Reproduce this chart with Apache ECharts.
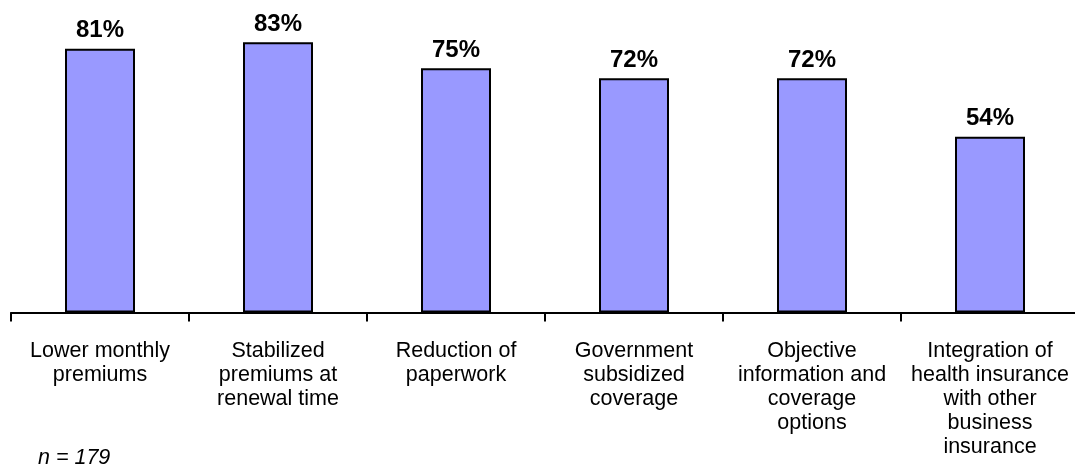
<!DOCTYPE html>
<html>
<head>
<meta charset="utf-8">
<script src="https://cdn.jsdelivr.net/npm/echarts@6/dist/echarts.min.js"></script>
<style>
html,body{margin:0;padding:0;background:#fff;}
#chart{width:1075px;height:466px;}
</style>
</head>
<body>
<div id="chart"></div>
<script>
const categories = [
  "Lower monthly\npremiums",
  "Stabilized\npremiums at\nrenewal time",
  "Reduction of\npaperwork",
  "Government\nsubsidized\ncoverage",
  "Objective\ninformation and\ncoverage\noptions",
  "Integration of\nhealth insurance\nwith other\nbusiness\ninsurance"
];
const values = [81, 83, 75, 72, 72, 54];
const sampleNote = "n = 179";

const FONT = "Arial, 'Liberation Sans', sans-serif";
const chart = echarts.init(document.getElementById('chart'), null, {renderer: 'canvas'});
chart.setOption({
  animation: false,
  backgroundColor: '#ffffff',
  grid: {left: 11, width: 1068, top: 0, height: 312.5, containLabel: false, outerBoundsMode: 'none'},
  xAxis: {
    type: 'category',
    data: categories,
    axisLine: {show: true, lineStyle: {color: '#000', width: 2}},
    axisTick: {show: true, length: 9, lineStyle: {color: '#000', width: 2}},
    axisLabel: {
      interval: 0,
      margin: 27,
      color: '#000',
      fontFamily: FONT,
      fontSize: 21.5,
      lineHeight: 24
    }
  },
  yAxis: {
    type: 'value',
    min: 0,
    max: 96,
    show: false
  },
  series: [{
    type: 'bar',
    data: values,
    barWidth: 70,
    itemStyle: {color: '#9999FF', borderColor: '#000', borderWidth: 2},
    label: {
      show: true,
      position: 'top',
      distance: 6,
      formatter: '{c}%',
      color: '#000',
      fontFamily: FONT,
      fontSize: 24,
      fontWeight: 'bold'
    }
  }],
  graphic: [{
    type: 'text',
    left: 38,
    top: 447,
    style: {
      text: sampleNote,
      fill: '#000',
      font: 'italic 21.5px ' + FONT
    }
  }]
});
</script>
</body>
</html>
